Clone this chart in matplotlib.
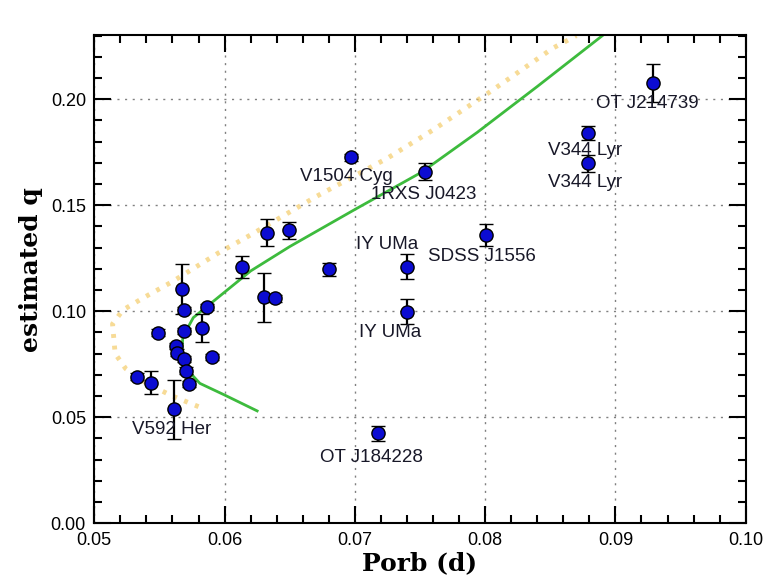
"""
Geschaetztes Massenverhaeltnis q gegen die Umlaufperiode Porb fuer
WZ-Sge-Sterne und verwandte Zwergnovae, zusammen mit zwei
Entwicklungspfaden.
"""

import numpy as np
import matplotlib
matplotlib.use("Agg")
from matplotlib import pyplot as plt
from matplotlib.ticker import MultipleLocator, FormatStrFormatter

# Messpunkte (Periode in Tagen, q, Fehler von q):
porb_arr = np.array([0.05326, 0.05436, 0.05492, 0.05672, 0.05685, 0.05692,
                     0.05628, 0.05632, 0.05690, 0.05705, 0.05730, 0.05613,
                     0.05865, 0.05826, 0.05903, 0.06134, 0.06326, 0.06493,
                     0.06300, 0.06390, 0.06800, 0.06967, 0.07536, 0.07398,
                     0.07398, 0.08005, 0.07177, 0.08792, 0.08792, 0.09288])
q_arr = np.array([0.0692, 0.0663, 0.0899, 0.1104, 0.1006, 0.0908,
                  0.0836, 0.0805, 0.0774, 0.0720, 0.0657, 0.0538,
                  0.1019, 0.0920, 0.0783, 0.1208, 0.1371, 0.1383,
                  0.1066, 0.1061, 0.1198, 0.1726, 0.1658, 0.1210,
                  0.0998, 0.1360, 0.0425, 0.1840, 0.1698, 0.2075])
q_fehl_arr = np.array([0.0015, 0.0055, 0.0015, 0.0119, 0.0015, 0.0015,
                       0.0015, 0.0015, 0.0015, 0.0015, 0.0015, 0.0140,
                       0.0015, 0.0067, 0.0015, 0.0052, 0.0065, 0.0040,
                       0.0115, 0.0015, 0.0030, 0.0015, 0.0040, 0.0060,
                       0.0060, 0.0050, 0.0035, 0.0032, 0.0040, 0.0090])

# Beschriftete Objekte (linker Rand des Textes, Textmitte in q):
name_arr = ["V592 Her", "V1504 Cyg", "1RXS J0423", "IY UMa", "SDSS J1556",
            "IY UMa", "OT J184228", "OT J214739", "V344 Lyr", "V344 Lyr"]
name_p_arr = [0.05288, 0.06582, 0.07121, 0.07005, 0.07562,
              0.07030, 0.06736, 0.08852, 0.08480, 0.08480]
name_q_arr = [0.0443, 0.1635, 0.1549, 0.1313, 0.1258,
              0.0902, 0.0311, 0.1981, 0.1758, 0.1607]

# Entwicklungspfade:
gruen_p_arr = [0.0625, 0.0600, 0.0581, 0.0572, 0.0567, 0.0568, 0.0576,
               0.0592, 0.0620, 0.0650, 0.0700, 0.0751, 0.0794, 0.0840,
               0.0890]
gruen_q_arr = [0.0530, 0.0605, 0.0660, 0.0720, 0.0800, 0.0880, 0.0970,
               0.1050, 0.1190, 0.1305, 0.1480, 0.1655, 0.1844, 0.2060,
               0.2300]
orange_p_arr = [0.0580, 0.0560, 0.0540, 0.0524, 0.0516, 0.0514, 0.0522,
                0.0537, 0.0560, 0.0595, 0.0620, 0.0670, 0.0725, 0.0760,
                0.0804, 0.0852, 0.0870]
orange_q_arr = [0.0550, 0.0600, 0.0660, 0.0730, 0.0800, 0.0940, 0.1006,
                0.1061, 0.1140, 0.1274, 0.1360, 0.1540, 0.1722, 0.1855,
                0.2036, 0.2241, 0.2300]


def plot_pfade(plotber):
    """
    Plottet die beiden Entwicklungspfade.

    Input:
        plotber (axis-Objekt):
            Plotbereich, in den geplottet werden soll
    """
    plotber.plot(orange_p_arr, orange_q_arr, linestyle=(0, (0.8, 1.6)),
                 color="#f2c350", lw=3.5, alpha=0.6, zorder=2)
    plotber.plot(gruen_p_arr, gruen_q_arr, "-", color="#3dbb3d", lw=2,
                 zorder=2)


def plot_punkte(plotber):
    """
    Plottet die Messpunkte mit Fehlerbalken und die Namen der Objekte.

    Input:
        plotber (axis-Objekt):
            Plotbereich, in den geplottet werden soll
    """
    plotber.errorbar(porb_arr, q_arr, yerr=q_fehl_arr, fmt="o",
                     color="black", ecolor="black", elinewidth=1.6,
                     capsize=5, capthick=1.6, markersize=9.5,
                     markerfacecolor="#0c0cd2", markeredgecolor="black",
                     markeredgewidth=1.0, zorder=3)
    for name, p_wert, q_wert in zip(name_arr, name_p_arr, name_q_arr):
        plotber.text(p_wert, q_wert, name, ha="left", va="center",
                     fontsize=13.5, color="#181828",
                     family="Liberation Sans", zorder=4)


def main():
    """
    Hauptprogramm: Abbildung erstellen und als out.png speichern.
    """
    plt.rcParams["font.family"] = "Liberation Sans"
    fig = plt.figure(figsize=(7.71, 5.85), dpi=100)
    ax_1 = fig.add_axes([0.1223, 0.1055, 0.8449, 0.8347])

    plot_pfade(ax_1)
    plot_punkte(ax_1)

    ax_1.set_xlim(0.05, 0.10)
    ax_1.set_ylim(0.0, 0.2303)
    ax_1.xaxis.set_major_locator(MultipleLocator(0.01))
    ax_1.xaxis.set_minor_locator(MultipleLocator(0.002))
    ax_1.yaxis.set_major_locator(MultipleLocator(0.05))
    ax_1.yaxis.set_minor_locator(MultipleLocator(0.01))
    ax_1.xaxis.set_major_formatter(FormatStrFormatter("%.2f"))
    ax_1.yaxis.set_major_formatter(FormatStrFormatter("%.2f"))

    ax_1.grid(True, which="major", color="#808080", linestyle=(0, (1.5, 4)),
              lw=1.0)
    ax_1.tick_params(right=True, left=True, top=True, bottom=True,
                     direction="in", which="both", width=1.5,
                     labelsize=13, colors="black")
    ax_1.tick_params(which="major", length=12, pad=6)
    ax_1.tick_params(which="minor", length=6)
    for spine in ax_1.spines.values():
        spine.set_linewidth(1.5)

    ax_1.set_xlabel("Porb (d)", family="DejaVu Serif", fontweight="bold",
                    fontsize=18, labelpad=2)
    ax_1.set_ylabel("estimated q", family="DejaVu Serif", fontweight="bold",
                    fontsize=18, labelpad=4)
    ax_1.yaxis.set_label_coords(-0.078, 0.52)

    fig.savefig("out.png", dpi=100)


if __name__ == "__main__":
    main()
